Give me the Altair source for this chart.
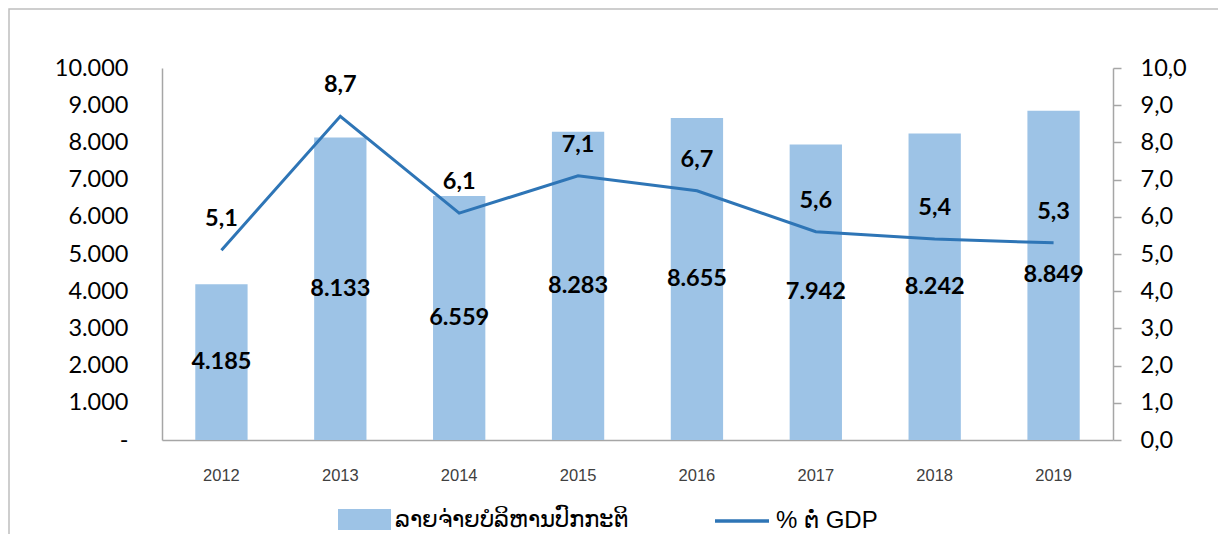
import altair as alt
import pandas as pd

years = ["2012", "2013", "2014", "2015", "2016", "2017", "2018", "2019"]
spending = [4185, 8133, 6559, 8283, 8655, 7942, 8242, 8849]
pct_gdp = [5.1, 8.7, 6.1, 7.1, 6.7, 5.6, 5.4, 5.3]
bar_series = "ລາຍຈ່າຍບໍລິຫານປົກກະຕິ"
line_series = "% ຕໍ່ GDP"

df = pd.DataFrame({
    "year": years,
    "spending": spending,
    "pct": pct_gdp,
    "sb": bar_series,
    "sl": line_series,
})

PAD_L, PAD_T, PAD_R, PAD_B = 154, 60, 105, 94
W, H = 951, 372

NUM_FONT = "Lato"
BAR_C = "#9DC3E6"
LINE_C = "#2E75B6"
AX_C = "#a6a6a6"

base = alt.Chart(df).transform_calculate(
    mid="datum.spending / 2",
    spend_txt="replace(format(datum.spending, ','), ',', '.')",
    pct_txt="replace(format(datum.pct, '.1f'), '.', ',')",
)

x_enc = alt.X(
    "year:N",
    title=None,
    scale=alt.Scale(paddingInner=0.56, paddingOuter=0.28),
    axis=alt.Axis(
        labelAngle=0, labelFont="Liberation Sans", labelFontSize=16.5,
        labelColor="#404040", labelPadding=27, ticks=False,
        domainColor=AX_C, domainWidth=1.5,
    ),
)

left_scale = alt.Scale(domain=[0, 10000])
right_scale = alt.Scale(domain=[0, 10])

left_axis = alt.Axis(
    values=list(range(0, 10001, 1000)), orient="left", grid=False,
    ticks=False, domainColor=AX_C, domainWidth=1.5,
    labelFont=NUM_FONT, labelFontSize=23.5, labelColor="#000000",
    labelPadding=34,
    labelExpr="datum.value == 0 ? '-' : replace(format(datum.value, ','), ',', '.')",
)

right_axis = alt.Axis(
    values=list(range(0, 11)), orient="right", grid=False,
    ticks=True, tickSize=8, tickColor=AX_C, tickWidth=1.5,
    domainColor=AX_C, domainWidth=1.5,
    labelFont=NUM_FONT, labelFontSize=23.5, labelColor="#000000",
    labelPadding=19,
    labelExpr="replace(format(datum.value, '.1f'), '.', ',')",
)

bars = base.mark_bar().encode(
    x=x_enc,
    y=alt.Y("spending:Q", title=None, scale=left_scale, axis=left_axis),
    fill=alt.Fill(
        "sb:N", scale=alt.Scale(range=[BAR_C]),
        legend=alt.Legend(
            title=None, orient="none", legendX=176, legendY=425, padding=0,
            symbolType="M-1,-0.4H1V0.4H-1Z", symbolSize=2809,
            symbolStrokeWidth=0, symbolOpacity=1,
            labelFont="Liberation Sans", labelFontSize=22.5, labelColor="#000000",
            labelOffset=4, labelLimit=400,
        ),
    ),
)

bar_text = base.mark_text(
    font=NUM_FONT, fontWeight="bold", fontSize=23.5, color="#000000"
).encode(
    x=alt.X("year:N"),
    y=alt.Y("mid:Q", title=None, scale=left_scale, axis=left_axis),
    text="spend_txt:N",
)

line = base.mark_line(strokeWidth=3).encode(
    x=alt.X("year:N"),
    y=alt.Y("pct:Q", title=None, scale=right_scale, axis=right_axis),
    stroke=alt.Stroke(
        "sl:N", scale=alt.Scale(range=[LINE_C]),
        legend=alt.Legend(
            title=None, orient="none", legendX=551, legendY=424, padding=0,
            symbolType="stroke", symbolSize=2916, symbolStrokeWidth=3.5,
            labelFont="Liberation Sans", labelFontSize=24, labelColor="#000000",
            labelOffset=5, labelLimit=400,
        ),
    ),
)

line_text = base.mark_text(
    font=NUM_FONT, fontWeight="bold", fontSize=23.5, color="#000000", dy=-31
).encode(
    x=alt.X("year:N"),
    y=alt.Y("pct:Q", title=None, scale=right_scale, axis=right_axis),
    text="pct_txt:N",
)

frame = alt.Chart(pd.DataFrame({"f": [0]})).mark_rect(
    fill=None, stroke="#bfbfbf", strokeWidth=1.5
).encode(
    x=alt.value(-153),
    x2=alt.value(W + PAD_R + 20),
    y=alt.value(-59),
    y2=alt.value(H + PAD_B + 20),
)

chart = alt.layer(
    alt.layer(frame, bars, bar_text),
    alt.layer(line, line_text),
).resolve_scale(
    y="independent", fill="independent", stroke="independent"
).properties(
    width=W, height=H,
    padding={"left": PAD_L, "top": PAD_T, "right": PAD_R, "bottom": PAD_B},
    autosize=alt.AutoSizeParams(type="none"),
    background="#ffffff",
).configure_view(stroke=None)

chart.save("out.html", embed_options={"renderer": "svg", "actions": False})
